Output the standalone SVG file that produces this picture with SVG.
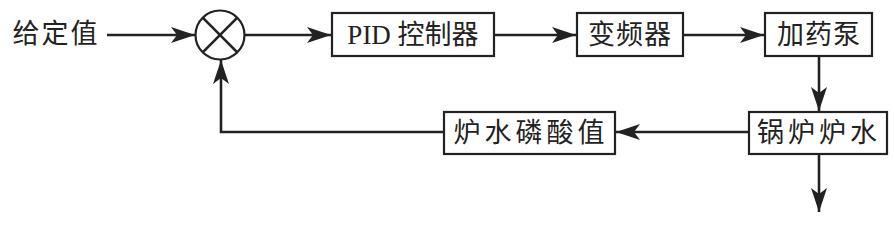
<svg xmlns="http://www.w3.org/2000/svg" width="894" height="230" viewBox="0 0 894 230">
<style>
.box{fill:#fff;stroke:#222;stroke-width:2.2}
.ln{fill:none;stroke:#222;stroke-width:2.6}
.t{font-family:"Liberation Serif","Noto Sans CJK SC",serif;font-size:27px;fill:#222;text-anchor:middle;dominant-baseline:central}
</style>
<defs>
<marker id="ah" markerUnits="userSpaceOnUse" markerWidth="26" markerHeight="18" refX="24" refY="8" orient="auto" viewBox="0 0 26 16">
<path d="M0,0 L24,8 L0,16 L6,8 z" fill="#222"/>
</marker>
</defs>
<g id="connectors">
<line class="ln" x1="107" y1="35" x2="195" y2="35" marker-end="url(#ah)"/>
<line class="ln" x1="245" y1="35" x2="331" y2="35" marker-end="url(#ah)"/>
<line class="ln" x1="494" y1="35" x2="576" y2="35" marker-end="url(#ah)"/>
<line class="ln" x1="683" y1="35" x2="764" y2="35" marker-end="url(#ah)"/>
<line class="ln" x1="819" y1="56" x2="819" y2="111" marker-end="url(#ah)"/>
<line class="ln" x1="819" y1="154" x2="819" y2="212" marker-end="url(#ah)"/>
<line class="ln" x1="749" y1="132" x2="616" y2="132" marker-end="url(#ah)"/>
<polyline class="ln" points="444,132 221,132 221,60" marker-end="url(#ah)"/>
</g>
<g id="setpoint"><text class="t" x="56" y="34" letter-spacing="2">给定值</text></g>
<g id="sum">
<circle cx="220" cy="35" r="24.5" fill="#fff" stroke="#222" stroke-width="2.2"/>
<line class="ln" stroke-width="2" x1="202.7" y1="17.7" x2="237.3" y2="52.3"/>
<line class="ln" stroke-width="2" x1="237.3" y1="17.7" x2="202.7" y2="52.3"/>
</g>
<g id="pid"><rect class="box" x="332" y="13" width="162" height="43"/><text class="t" x="413" y="35">PID 控制器</text></g>
<g id="vfd"><rect class="box" x="577" y="13" width="106" height="43"/><text class="t" x="630" y="35" letter-spacing="1">变频器</text></g>
<g id="pump"><rect class="box" x="765" y="13" width="107" height="43"/><text class="t" x="819" y="35" letter-spacing="1">加药泵</text></g>
<g id="boiler"><rect class="box" x="749" y="112" width="138" height="42"/><text class="t" x="819" y="133" letter-spacing="4">锅炉炉水</text></g>
<g id="phosphate"><rect class="box" x="444" y="112" width="171" height="42"/><text class="t" x="531" y="133" letter-spacing="4">炉水磷酸值</text></g>
</svg>
